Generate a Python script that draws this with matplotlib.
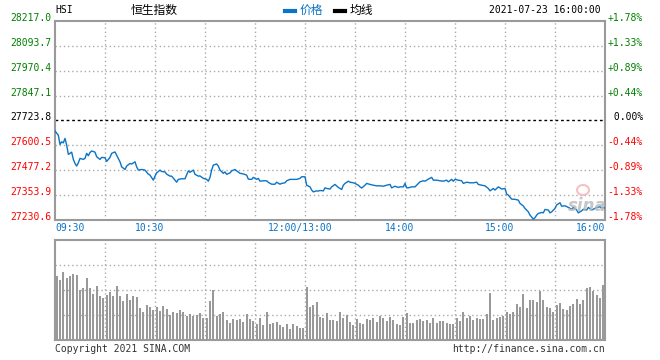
import matplotlib
matplotlib.use("Agg")
import numpy as np
import matplotlib.pyplot as plt
from matplotlib.lines import Line2D
from matplotlib.patches import Ellipse
from matplotlib.transforms import ScaledTranslation, blended_transform_factory

# 恒生指数 2021-07-23 分时数据
prev_close = 27723.8
price_levels = [27230.6, 27353.9, 27477.2, 27600.5, 27723.8, 27847.1, 27970.4, 28093.7, 28217.0]
pct_labels = ["-1.78%", "-1.33%", "-0.89%", "-0.44%", " 0.00%", "+0.44%", "+0.89%", "+1.33%", "+1.78%"]

time_ticks = [0, 60, 150, 210, 270, 330]
time_labels = ["09:30", "10:30", "12:00/13:00", "14:00", "15:00", "16:00"]
grid_minutes = [30, 60, 90, 120, 150, 180, 210, 240, 270, 300]

# 交易分钟 (09:30 起, 跳过午休)
minutes = [0, 2, 3, 4, 5, 6, 7, 8, 9, 10, 11, 12, 13, 14, 15, 17, 18, 19, 20, 21,
           22, 24, 25, 27, 28, 30, 31, 33, 34, 36, 37, 39, 40, 42, 43, 45, 46, 48, 49, 50,
           52, 54, 56, 57, 59, 60, 61, 63, 64, 66, 67, 69, 70, 72, 73, 74, 76, 78, 80, 81,
           83, 84, 86, 87, 89, 91, 92, 93, 94, 95, 97, 98, 99, 101, 102, 103, 105, 106, 108, 109,
           111, 113, 115, 116, 118, 119, 121, 122, 123, 125, 127, 128, 130, 132, 133, 135, 136, 138, 139, 141,
           143, 145, 147, 148, 150, 151, 153, 154, 155, 157, 158, 159, 161, 162, 163, 165, 166, 168, 170, 172,
           173, 174, 176, 177, 179, 180, 182, 183, 184, 186, 187, 189, 191, 193, 195, 197, 199, 201, 202, 204,
           206, 207, 209, 210, 211, 212, 214, 216, 217, 219, 221, 222, 224, 226, 227, 229, 231, 233, 235, 236,
           238, 239, 240, 242, 244, 245, 247, 249, 251, 253, 254, 256, 258, 260, 261, 263, 264, 266, 268, 270,
           271, 272, 274, 276, 278, 279, 281, 282, 284, 285, 287, 288, 289, 290, 292, 293, 294, 296, 297, 298,
           300, 301, 303, 304, 306, 308, 310, 311, 313, 314, 316, 317, 319, 320, 322, 324, 325, 327, 328, 330]
prices = [27672, 27651, 27605, 27618, 27613, 27635, 27602, 27556, 27561, 27567,
          27531, 27511, 27498, 27514, 27536, 27531, 27536, 27561, 27549, 27565,
          27573, 27567, 27544, 27531, 27541, 27539, 27521, 27541, 27561, 27568,
          27552, 27519, 27494, 27481, 27498, 27511, 27508, 27519, 27494, 27478,
          27481, 27478, 27458, 27453, 27428, 27448, 27464, 27478, 27471, 27469,
          27458, 27448, 27448, 27428, 27418, 27432, 27435, 27435, 27474, 27467,
          27478, 27457, 27448, 27449, 27437, 27432, 27423, 27442, 27478, 27503,
          27508, 27498, 27478, 27462, 27469, 27457, 27464, 27474, 27481, 27474,
          27462, 27459, 27453, 27433, 27432, 27442, 27432, 27437, 27423, 27425,
          27425, 27417, 27408, 27408, 27418, 27408, 27412, 27415, 27425, 27432,
          27432, 27432, 27437, 27445, 27445, 27403, 27395, 27379, 27370, 27375,
          27374, 27377, 27375, 27390, 27387, 27384, 27395, 27407, 27392, 27382,
          27403, 27412, 27423, 27418, 27415, 27412, 27403, 27395, 27389, 27403,
          27412, 27407, 27403, 27400, 27400, 27398, 27403, 27407, 27390, 27398,
          27392, 27395, 27395, 27412, 27390, 27390, 27395, 27395, 27403, 27420,
          27425, 27423, 27433, 27442, 27428, 27428, 27425, 27423, 27428, 27420,
          27432, 27423, 27432, 27428, 27425, 27412, 27418, 27415, 27415, 27418,
          27407, 27403, 27400, 27387, 27375, 27387, 27379, 27395, 27384, 27387,
          27359, 27354, 27334, 27333, 27329, 27313, 27300, 27288, 27271, 27255,
          27235, 27242, 27255, 27263, 27268, 27266, 27283, 27280, 27266, 27271,
          27288, 27305, 27316, 27299, 27301, 27293, 27284, 27293, 27280, 27266,
          27276, 27284, 27280, 27293, 27280, 27288, 27293, 27296, 27291, 27291]

# 成交量 (每两分钟一根, 相对高度)
volume = [64, 60, 68, 62, 64, 66, 65, 50, 52, 62,
          52, 46, 54, 44, 42, 45, 48, 44, 54, 44,
          39, 46, 40, 44, 43, 32, 28, 35, 33, 30,
          33, 29, 34, 31, 25, 28, 27, 30, 28, 24,
          26, 24, 25, 27, 22, 22, 39, 50, 24, 26,
          28, 20, 17, 21, 20, 21, 18, 26, 21, 19,
          16, 22, 15, 28, 16, 17, 18, 15, 13, 16,
          11, 16, 14, 12, 12, 53, 33, 35, 38, 23,
          22, 27, 20, 20, 19, 28, 22, 25, 18, 15,
          21, 17, 16, 21, 20, 22, 18, 24, 22, 19,
          23, 20, 16, 15, 23, 27, 17, 17, 20, 21,
          19, 20, 17, 22, 17, 19, 19, 17, 16, 16,
          22, 19, 28, 22, 24, 20, 22, 21, 21, 26,
          47, 20, 22, 23, 24, 28, 26, 28, 36, 33,
          46, 32, 40, 40, 38, 49, 40, 33, 32, 28,
          35, 37, 31, 30, 34, 36, 41, 36, 40, 52,
          53, 49, 45, 42, 55]

BLUE = "#0a74c6"
GREEN = "#008000"
RED = "#ff0000"
GRID = "#aaaaaa"
FRAME = "#9a9a9a"
MONO = "DejaVu Sans Mono"
CJK = ["Noto Sans CJK SC", "DejaVu Sans"]

W, H = 660, 360
fig = plt.figure(figsize=(6.6, 3.6), dpi=100)
fig.patch.set_facecolor("white")


def fx(x):
    return x / W


def fy(y):
    return 1 - y / H


ax = fig.add_axes([fx(55), fy(220), 550 / W, 199 / H])
axv = fig.add_axes([fx(55), fy(340), 550 / W, 100 / H])

for a in (ax, axv):
    a.set_xlim(0, 330)
    a.set_xticks([])
    a.set_yticks([])
    for s in a.spines.values():
        s.set_color(FRAME)
        s.set_linewidth(1.5)
    for m in grid_minutes:
        a.axvline(m, color=GRID, lw=1, ls=(0, (1, 2)), zorder=1)

# 价格面板
ax.set_ylim(price_levels[0], price_levels[-1])
for lv in price_levels[1:-1]:
    if lv == prev_close:
        ax.axhline(lv, color="black", lw=1, ls=(0, (2, 2)), zorder=2)
    else:
        ax.axhline(lv, color=GRID, lw=1, ls=(0, (1, 2)), zorder=1)
ax.plot(minutes, prices, color=BLUE, lw=1.0, zorder=3)

left_tr = blended_transform_factory(fig.transFigure, ax.transData)
for lv, pct in zip(price_levels, pct_labels):
    if lv > prev_close:
        c = GREEN
    elif lv < prev_close:
        c = RED
    else:
        c = "black"
    ax.text(fx(51), lv, f"{lv:.1f}", transform=left_tr, ha="right", va="baseline",
            fontsize=7, family=MONO, color=c)
    ax.text(fx(643), lv, pct, transform=left_tr, ha="right", va="baseline",
            fontsize=7, family=MONO, color=c)

# 时间轴标签
bot_tr = blended_transform_factory(ax.transData, fig.transFigure)
shift = ScaledTranslation(-0.05, 0, fig.dpi_scale_trans)
for i, (t, lab) in enumerate(zip(time_ticks, time_labels)):
    if i == 0:
        ha, tr = "left", bot_tr
    elif i == len(time_ticks) - 1:
        ha, tr = "right", bot_tr
    else:
        ha, tr = "center", bot_tr + shift
    ax.text(t, fy(223), lab, transform=tr, ha=ha, va="top", fontsize=7,
            family=MONO, color=BLUE)

# 成交量面板
axv.set_ylim(0, 100)
for lv in (25, 50, 75):
    axv.axhline(lv, color=GRID, lw=1, ls=(0, (1, 2)), zorder=1)
vol_x = np.arange(len(volume)) * 2 + 1
axv.bar(vol_x, volume, width=1.2, color="#999999", linewidth=0, zorder=2)

# 标题栏
fig.text(fx(55), fy(10), "HSI", ha="left", va="center", fontsize=7, family=MONO)
fig.text(fx(154.5), fy(10), "恒生指数", ha="center", va="center", fontsize=8.5, family=CJK)
fig.add_artist(Line2D([fx(285), fx(295)], [fy(11), fy(11)], color=BLUE, lw=3))
fig.text(fx(300), fy(10), "价格", ha="left", va="center", fontsize=8.5, family=CJK, color=BLUE)
fig.add_artist(Line2D([fx(335), fx(345)], [fy(11), fy(11)], color="black", lw=3))
fig.text(fx(350), fy(10), "均线", ha="left", va="center", fontsize=8.5, family=CJK, color="black")
fig.text(fx(601), fy(10), "2021-07-23 16:00:00", ha="right", va="center", fontsize=7, family=MONO)

# 页脚
fig.text(fx(55), fy(349), "Copyright 2021 SINA.COM", ha="left", va="center",
         fontsize=7, family=MONO, color="#333333")
fig.text(fx(605), fy(349), "http://finance.sina.com.cn", ha="right", va="center",
         fontsize=7, family=MONO, color="#333333")

# 水印
fig.add_artist(Ellipse((fx(583), fy(190)), 12 / W, 10 / H, fill=False,
                       edgecolor="#f2b3b3", lw=1.5, alpha=0.8))
fig.text(fx(587), fy(206), "sina", ha="center", va="center", fontsize=12,
         style="italic", weight="bold", color="#b8b8b8", alpha=0.8)

fig.savefig("out.png", dpi=100)
